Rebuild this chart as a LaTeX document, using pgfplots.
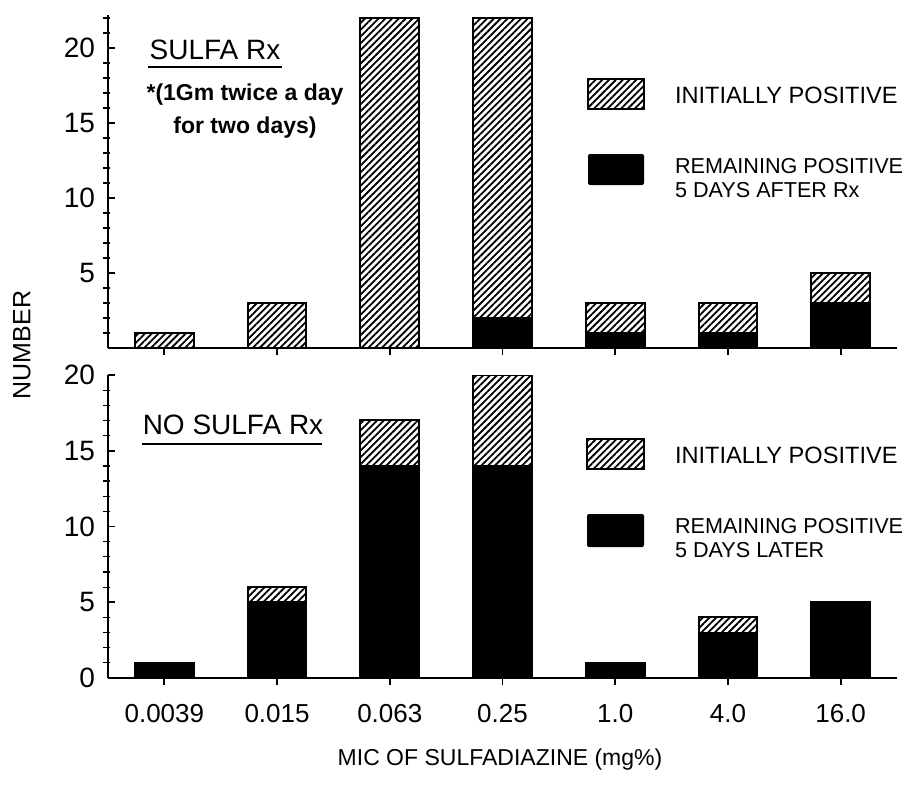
\documentclass[border=0pt]{standalone}
\usepackage{pgfplots}
\pgfplotsset{compat=1.18}
\usepackage{pgfplotstable}
\usepackage{fontspec}
\setmainfont{Liberation Sans}
\usetikzlibrary{patterns.meta}

% Number of isolates per MIC class: initially positive, remaining positive
\pgfplotstableread{
x init rem
0 1  0
1 3  0
2 22 0
3 22 2
4 3  1
5 3  1
6 5  3
}\sulfa
\pgfplotstableread{
x init rem
0 1  1
1 6  5
2 17 14
3 20 14
4 1  1
5 4  3
6 5  5
}\nosulfa

\tikzset{hatch/.style={pattern={Lines[angle=45,distance=2.4pt,line width=0.9pt]},pattern color=black}}

\pgfplotsset{
  panel/.style={
    scale only axis, width=394.5pt, anchor=south west,
    xmin=-0.5, xmax=6.5, ymin=0,
    axis lines=left, axis line style={-, line width=1pt},
    tick align=inside, major tick length=3.5pt,
    tick style={line width=0.9pt, black},
    xtick={0,...,6}, x tick style={yshift=-3.5pt},
    /pgf/number format/assume math mode=true,
    yticklabel style={font=\fontsize{14}{14}\selectfont, xshift=-3pt},
    extra y tick labels={},
    extra y tick style={y tick style={xshift=-2.5pt, line width=0.6pt}},
  },
  initbar/.style={ybar, bar width=0.52, bar shift=0pt, draw=black, line width=1pt, hatch},
  rembar/.style={ybar, bar width=0.52, bar shift=0pt, draw=black, line width=1pt, fill=black},
}

\begin{document}
\begin{tikzpicture}
\useasboundingbox (0,0) rectangle (458pt,392pt);

% treated group
\begin{axis}[panel, at={(54pt,218pt)}, height=166.5pt, ymax=22.2,
  ytick={5,10,15,20},
  extra y ticks={1,2,3,4,6,7,8,9,11,12,13,14,16,17,18,19,21,22},
  xticklabels={}]
  \addplot[initbar] table[x=x,y=init] {\sulfa};
  \addplot[rembar] table[x=x,y=rem] {\sulfa};
\end{axis}

% untreated group
\begin{axis}[panel, at={(54pt,53pt)}, height=151.5pt, ymax=20,
  ytick={0,5,10,15,20},
  extra y ticks={1,2,3,4,6,7,8,9,11,12,13,14,16,17,18,19},
  xticklabels={0.0039,0.015,0.063,0.25,1.0,4.0,16.0},
  xticklabel style={font=\fontsize{13}{13}\selectfont, yshift=-9.5pt}]
  \addplot[initbar] table[x=x,y=init] {\nosulfa};
  \addplot[rembar] table[x=x,y=rem] {\nosulfa};
\end{axis}

% annotations, titles and legends
\begin{scope}[x=0.5pt,y=-0.5pt,shift={(0,392pt)}]
  \node[font=\fontsize{14}{14}\selectfont] at (215,50) {SULFA Rx};
  \draw[line width=1pt] (148,67) -- (282,67);
  \node[font=\bfseries\fontsize{11.5}{16.5}\selectfont, align=center] at (245,111)
    {*(1Gm twice a day\\for two days)};

  \node[font=\fontsize{14}{14}\selectfont] at (233,425) {NO SULFA Rx};
  \draw[line width=1pt] (142,444) -- (322,444);

  \draw[hatch, line width=1pt] (588,79) rectangle (644,109);
  \fill[black, rounded corners=1pt] (588,154) rectangle (644,185);
  \node[anchor=west, font=\fontsize{11.8}{12}\selectfont] at (668,95) {INITIALLY POSITIVE};
  \node[anchor=west, align=left, font=\fontsize{10.8}{12}\selectfont] at (668,178)
    {REMAINING POSITIVE\\5 DAYS AFTER Rx};

  \draw[hatch, line width=1pt] (587,439) rectangle (644,469);
  \fill[black, rounded corners=1pt] (587,514) rectangle (644,547);
  \node[anchor=west, font=\fontsize{11.8}{12}\selectfont] at (668,455) {INITIALLY POSITIVE};
  \node[anchor=west, align=left, font=\fontsize{10.8}{12}\selectfont] at (668,538)
    {REMAINING POSITIVE\\5 DAYS LATER};

  \node[rotate=90, font=\fontsize{12.5}{12.5}\selectfont] at (22,345) {NUMBER};
  \node[font=\fontsize{11.5}{11.5}\selectfont] at (500,760) {MIC OF SULFADIAZINE (mg\%)};
\end{scope}
\end{tikzpicture}
\end{document}
